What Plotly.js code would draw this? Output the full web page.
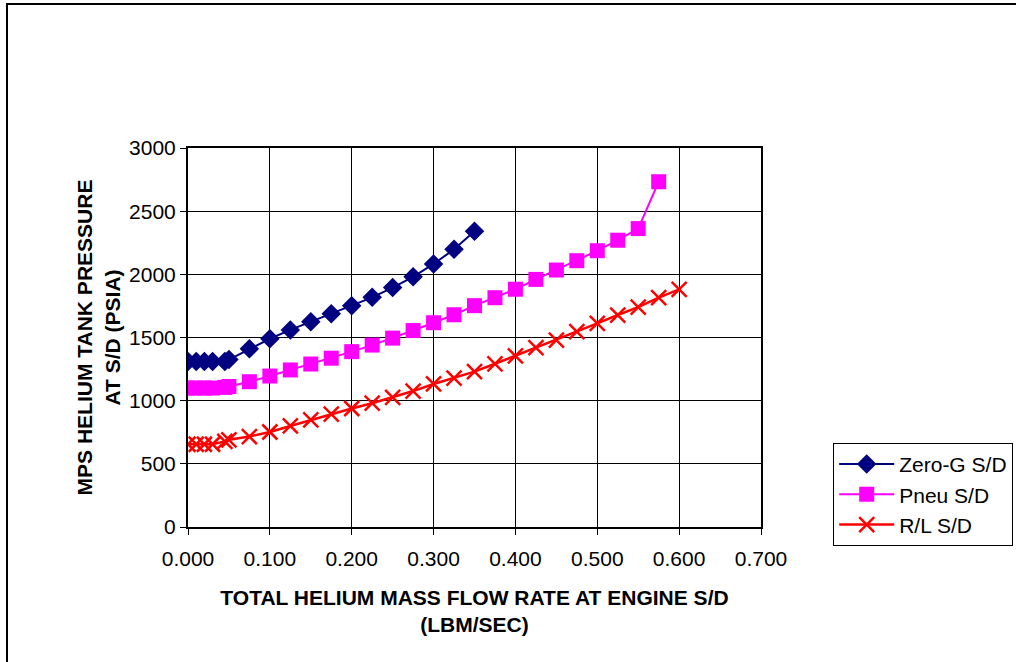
<!DOCTYPE html>
<html>
<head>
<meta charset="utf-8">
<script src="https://cdn.plot.ly/plotly-3.0.1.min.js"></script>
<style>
  html, body { margin: 0; padding: 0; background: #fff; }
  #wrap { position: absolute; left: 0; top: 0; width: 1016px; height: 662px; }
  #frame { position: absolute; left: 6px; top: 3px; width: 1010px; height: 659px;
           border-top: 2px solid #000; border-left: 2px solid #000; box-sizing: border-box; pointer-events: none; }
  #chart { position: absolute; left: 0; top: 0; width: 1016px; height: 662px; }
</style>
</head>
<body>
<div id="wrap">
  <div id="chart"></div>
  <div id="frame"></div>
</div>
<script>
// Zero-G S/D
const zeroGX = [0, 0.01, 0.02, 0.03, 0.045, 0.05, 0.075, 0.1, 0.125, 0.15, 0.175, 0.2, 0.225, 0.25, 0.275, 0.3, 0.325, 0.35];
const zeroGY = [1310, 1310, 1310, 1310, 1310, 1325, 1410, 1490, 1560, 1625, 1688, 1752, 1818, 1895, 1980, 2082, 2198, 2342];
// Pneu S/D
const pneuX = [0, 0.01, 0.02, 0.03, 0.045, 0.05, 0.075, 0.1, 0.125, 0.15, 0.175, 0.2, 0.225, 0.25, 0.275, 0.3, 0.325, 0.35, 0.375, 0.4, 0.425, 0.45, 0.475, 0.5, 0.525, 0.55, 0.575];
const pneuY = [1100, 1100, 1100, 1100, 1105, 1112, 1150, 1195, 1243, 1290, 1336, 1388, 1440, 1495, 1555, 1617, 1680, 1752, 1815, 1882, 1960, 2034, 2108, 2187, 2270, 2362, 2733];
// R/L S/D
const rlX = [0, 0.01, 0.02, 0.03, 0.045, 0.05, 0.075, 0.1, 0.125, 0.15, 0.175, 0.2, 0.225, 0.25, 0.275, 0.3, 0.325, 0.35, 0.375, 0.4, 0.425, 0.45, 0.475, 0.5, 0.525, 0.55, 0.575, 0.6];
const rlY = [655, 655, 655, 655, 678, 690, 716, 752, 800, 848, 894, 938, 980, 1026, 1076, 1132, 1178, 1230, 1292, 1355, 1419, 1480, 1546, 1612, 1678, 1740, 1815, 1881];

const xTickVals = [0, 0.1, 0.2, 0.3, 0.4, 0.5, 0.6, 0.7];
const xTickText = ["0.000", "0.100", "0.200", "0.300", "0.400", "0.500", "0.600", "0.700"];
const yTickVals = [0, 500, 1000, 1500, 2000, 2500, 3000];

const seriesNames = ["Zero-G S/D", "Pneu S/D", "R/L S/D"];

const font = "Liberation Sans, Arial, sans-serif";
const fs = 21;

const traces = [
  { x: zeroGX, y: zeroGY, name: seriesNames[0], mode: "lines+markers", type: "scatter",
    line: { color: "#000080", width: 2 },
    marker: { symbol: "diamond", size: 15, color: "#000080" } },
  { x: pneuX, y: pneuY, name: seriesNames[1], mode: "lines+markers", type: "scatter",
    line: { color: "#FF00FF", width: 2 },
    marker: { symbol: "square", size: 15, color: "#FF00FF" } },
  { x: rlX, y: rlY, name: seriesNames[2], mode: "lines+markers", type: "scatter",
    line: { color: "#FF0000", width: 2.5 },
    marker: { symbol: "x-thin", size: 15, color: "#FF0000", line: { color: "#FF0000", width: 2.5 } } }
];

const layout = {
  width: 1016, height: 662,
  margin: { l: 188, r: 255, t: 148, b: 135, pad: 0, autoexpand: false },
  paper_bgcolor: "#fff", plot_bgcolor: "#fff",
  font: { family: font, size: fs, color: "#000" },
  showlegend: true,
  legend: {
    x: 1.126, y: 0.222, xanchor: "left", yanchor: "top",
    bordercolor: "#000", borderwidth: 1, bgcolor: "#fff",
    font: { family: font, size: fs, color: "#000" },
    itemwidth: 55
  },
  xaxis: {
    range: [0, 0.7], tickvals: xTickVals, ticktext: xTickText,
    showgrid: true, gridcolor: "#000", gridwidth: 1,
    showline: true, linecolor: "#000", linewidth: 2, mirror: true,
    ticks: "outside", ticklen: 6, tickcolor: "#000", tickwidth: 1,
    ticklabelstandoff: 6,
    zeroline: false,
    tickfont: { family: font, size: fs },
    title: { text: "<b>TOTAL HELIUM MASS FLOW RATE AT ENGINE S/D<br>(LBM/SEC)</b>",
             font: { family: font, size: fs }, standoff: 21 }
  },
  yaxis: {
    range: [0, 3000], tickvals: yTickVals,
    showgrid: true, gridcolor: "#000", gridwidth: 1,
    showline: true, linecolor: "#000", linewidth: 2, mirror: true,
    ticks: "outside", ticklen: 6, tickcolor: "#000", tickwidth: 1,
    zeroline: false,
    tickfont: { family: font, size: fs },
    title: { text: "<b>MPS HELIUM TANK PRESSURE<br>AT S/D (PSIA)</b>",
             font: { family: font, size: fs }, standoff: 3 }
  }
};

Plotly.newPlot("chart", traces, layout, { displayModeBar: false, staticPlot: true });
</script>
</body>
</html>
